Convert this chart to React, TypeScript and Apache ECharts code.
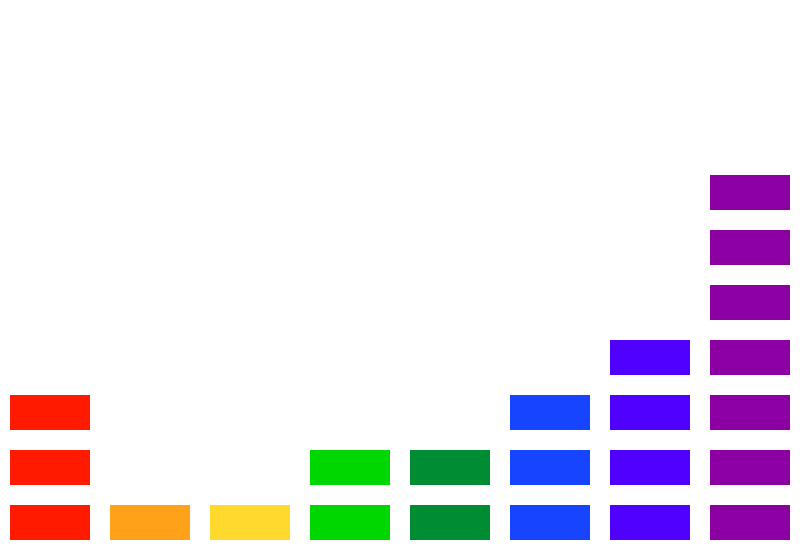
import React, { useRef, useEffect } from 'react';
import * as echarts from 'echarts';

const categories = ['a', 'b', 'c', 'd', 'e', 'f', 'g', 'h'];
const counts = [3, 1, 1, 2, 2, 3, 4, 7];
const colors = ['#ff1a00', '#ffa21a', '#ffd92e', '#00d600', '#008c32', '#1745ff', '#5000ff', '#8c00a3'];

// one item per block: [category index, level]
const blocks: number[][] = [];
counts.forEach((n, i) => {
  for (let k = 0; k < n; k++) blocks.push([i, k]);
});

const App: React.FC = () => {
  const chartRef = useRef<HTMLDivElement>(null);

  useEffect(() => {
    if (!chartRef.current) return;
    const chart = echarts.init(chartRef.current, undefined, { renderer: 'svg' });

    chart.setOption({
      animation: false,
      grid: { left: 0, right: 0, top: 45, bottom: 10 },
      xAxis: { type: 'category', data: categories, show: false },
      yAxis: { type: 'value', min: 0, max: 9, show: false },
      series: [
        {
          type: 'custom',
          data: blocks,
          renderItem: (params: any, api: any) => {
            const idx = api.value(0);
            const level = api.value(1);
            const base = api.coord([idx, level]);
            const size = api.size([1, 1]);
            const w = size[0] * 0.8;
            const h = size[1] * (35 / 55);
            return {
              type: 'rect',
              shape: { x: base[0] - w / 2, y: base[1] - h, width: w, height: h },
              style: { fill: colors[idx] },
            };
          },
        },
      ],
    });

    return () => chart.dispose();
  }, []);

  return <div ref={chartRef} style={{ width: 800, height: 550, margin: -8 }} />;
};

export default App;
